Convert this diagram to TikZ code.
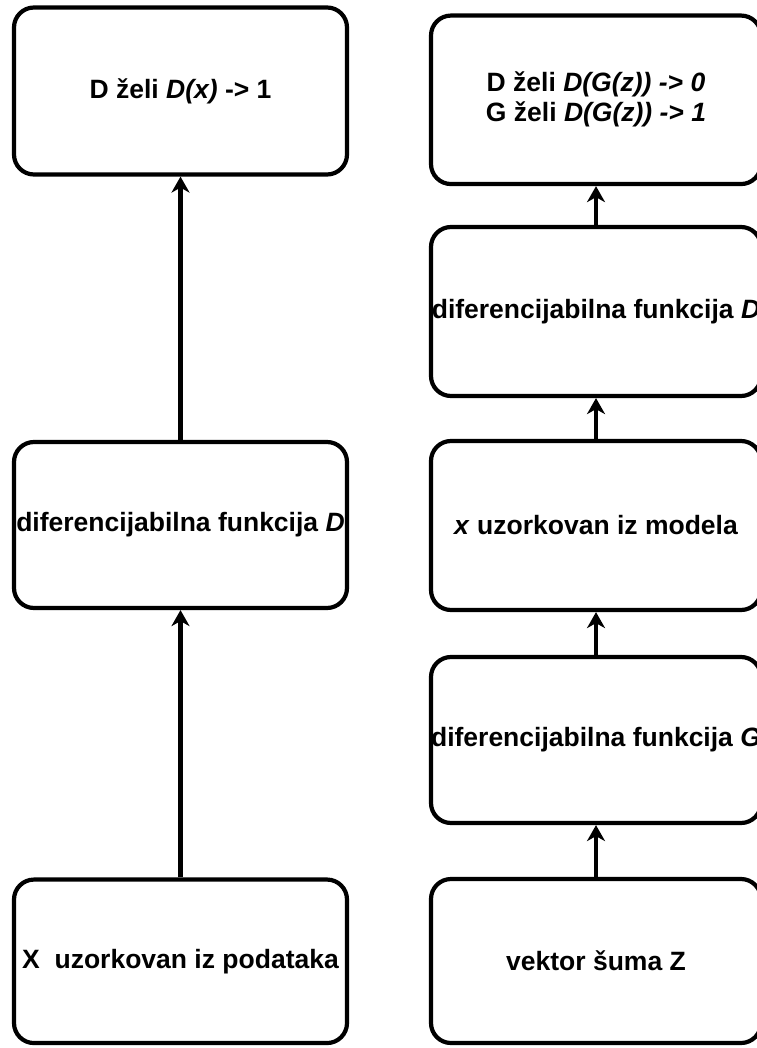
\documentclass[tikz,border=0pt]{standalone}
\usepackage{fontspec}
\setmainfont{Liberation Sans}
\usetikzlibrary{arrows.meta}
\begin{document}
\begin{tikzpicture}[x=1pt,y=-1pt,
  box/.style={draw=black, line width=4.2pt, rounded corners=20pt, fill=white,
    inner sep=0pt, align=center, font=\fontsize{26.5}{30}\selectfont\bfseries},
  lbox/.style={box, minimum width=333pt},
  rbox/.style={box, minimum width=330pt},
  flow/.style={line width=4.2pt, -{Stealth[length=16pt,width=18pt,inset=5pt]}}]
\useasboundingbox (0,0) rectangle (756,1048);

% discriminator on real data
\node[lbox, minimum height=167pt]   (ltop) at (180.5,91)    {D želi \textit{D(x)} -> 1};
\node[lbox, minimum height=166pt]   (lmid) at (180.5,525)   {diferencijabilna funkcija \textit{D}};
\node[lbox, minimum height=163.5pt] (lbot) at (180.5,961.3) {X\ \ uzorkovan iz podataka};

% generator followed by discriminator
\node[rbox, minimum height=168.5pt] (r1) at (596,99.8)  {D želi \textit{D(G(z)) -> 0}\\G želi \textit{D(G(z)) -> 1}};
\node[rbox, minimum height=169pt]   (r2) at (596,311.5) {diferencijabilna funkcija \textit{D}};
\node[rbox, minimum height=169pt]   (r3) at (596,525.5) {\textit{x} uzorkovan iz modela};
\node[rbox, minimum height=166pt]   (r4) at (596,740)   {diferencijabilna funkcija \textit{G}};
\node[rbox, minimum height=164pt]   (r5) at (596,961)   {vektor šuma Z};

\draw[flow] (lbot.north) -- (lmid.south);
\draw[flow] (lmid.north) -- (ltop.south);
\draw[flow] (r5.north) -- (r4.south);
\draw[flow] (r4.north) -- (r3.south);
\draw[flow] (r3.north) -- (r2.south);
\draw[flow] (r2.north) -- (r1.south);
\end{tikzpicture}
\end{document}
